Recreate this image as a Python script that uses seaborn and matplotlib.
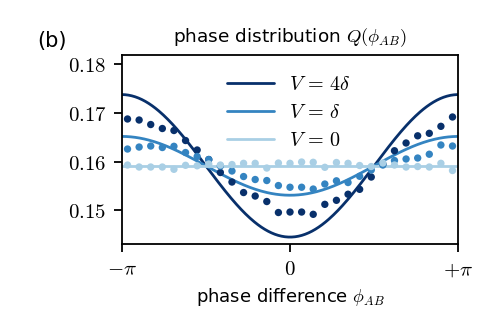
import numpy as np
import pandas as pd
import matplotlib
matplotlib.use("Agg")
import matplotlib.pyplot as plt
import seaborn as sns

# ---------------------------------------------------------------------------
# Data
# ---------------------------------------------------------------------------
N_BINS = 29
LABELS = [r"$V \,=\, 4\delta$", r"$V \,=\, \delta$", r"$V \,=\, 0$"]
COLORS = ["#08306b", "#3484c1", "#a9cfe5"]

# theory curves Q = (1 - a cos phi) / (2 pi), visibility a per series
THEORY_VIS = [0.0921, 0.038, 0.0]

# measured histogram values, one per phase bin (bin centres)
Q_4DELTA = [0.16879, 0.16858, 0.16765, 0.16683, 0.16642, 0.16436, 0.16241,
            0.16045, 0.15778, 0.15582, 0.15366, 0.15294, 0.15181, 0.14955,
            0.14965, 0.14965, 0.14918, 0.15123, 0.15206, 0.15331, 0.15432,
            0.15685, 0.15953, 0.16226, 0.16385, 0.16533, 0.16584, 0.16728,
            0.16920]
Q_DELTA = [0.16261, 0.16302, 0.16323, 0.16292, 0.16317, 0.16189, 0.16107,
           0.16045, 0.15912, 0.15809, 0.15695, 0.15634, 0.15613, 0.15510,
           0.15475, 0.15475, 0.15438, 0.15541, 0.15607, 0.15572, 0.15700,
           0.15829, 0.15932, 0.16025, 0.16056, 0.16076, 0.16154, 0.16344,
           0.16323]
Q_ZERO = [0.15932, 0.15891, 0.15891, 0.15891, 0.15844, 0.15926, 0.15916,
          0.15953, 0.15932, 0.15942, 0.15967, 0.15967, 0.15870, 0.15973,
          0.15967, 0.15994, 0.15988, 0.15885, 0.15984, 0.15967, 0.15922,
          0.15901, 0.15973, 0.15932, 0.15891, 0.15901, 0.15891, 0.15967,
          0.15819]
MEASURED = [Q_4DELTA, Q_DELTA, Q_ZERO]

X_TICKS = [-np.pi, 0, np.pi]
X_TICKLABELS = [r"$-\pi$", r"$0$", r"$+\pi$"]
Y_TICKS = [0.15, 0.16, 0.17, 0.18]

# ---------------------------------------------------------------------------
# Plot
# ---------------------------------------------------------------------------
sns.set_style("ticks")
plt.rcParams["mathtext.fontset"] = "cm"
plt.rcParams["font.family"] = ["DejaVu Sans"]
plt.rcParams["text.color"] = "black"
plt.rcParams["axes.labelcolor"] = "black"
plt.rcParams["xtick.color"] = "black"
plt.rcParams["ytick.color"] = "black"

phi_bins = -np.pi + (np.arange(N_BINS) + 0.5) * 2 * np.pi / N_BINS
phi_fine = np.linspace(-np.pi, np.pi, 300)

fig = plt.figure(figsize=(4.98, 3.32), dpi=100)
ax = fig.add_axes([0.2444, 0.265, 0.6759, 0.5693])

for label, color, vis in zip(LABELS, COLORS, THEORY_VIS):
    q = (1 - vis * np.cos(phi_fine)) / (2 * np.pi)
    sns.lineplot(x=phi_fine, y=q, color=color, linewidth=2.0, label=label,
                 ax=ax, zorder=2)

for color, vals in zip(COLORS, MEASURED):
    df = pd.DataFrame({"phi": phi_bins, "Q": vals})
    sns.scatterplot(data=df, x="phi", y="Q", color=color, s=28,
                    edgecolor="none", ax=ax, zorder=3)

ax.set_xlim(-np.pi, np.pi)
ax.set_ylim(0.14307, 0.18195)
ax.set_xticks(X_TICKS)
ax.set_xticklabels(X_TICKLABELS, fontsize=15)
ax.set_yticks(Y_TICKS)
ax.set_yticklabels([f"${t:.2f}$" for t in Y_TICKS], fontsize=15)
ax.tick_params(direction="out", length=5.5, width=1.3, pad=5.5)
for s in ax.spines.values():
    s.set_linewidth(1.3)
    s.set_color("black")
    s.set_visible(True)

ax.set_xlabel(r"phase difference $\phi_{AB}$", fontsize=13, labelpad=5)
ax.set_ylabel("")
ax.set_title(r"phase distribution $Q(\phi_{AB})$", fontsize=13.3, pad=9)
fig.text(0.075, 0.858, "(b)", fontsize=15)

ax.legend(loc="upper left", bbox_to_anchor=(0.29, 0.935), frameon=False,
          fontsize=14.5, handlelength=2.3, labelspacing=0.43,
          handletextpad=0.75, borderaxespad=0)

fig.savefig("out.png", dpi=100)
